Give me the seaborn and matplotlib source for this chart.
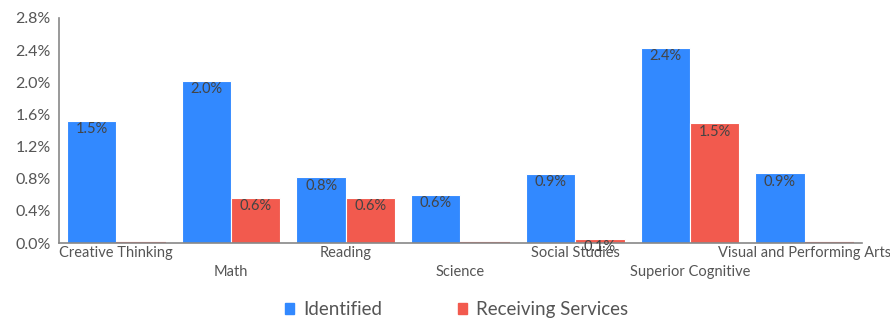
import matplotlib
matplotlib.use("Agg")
import matplotlib.pyplot as plt
import seaborn as sns
import pandas as pd
from matplotlib.ticker import FuncFormatter, MultipleLocator

# Values (percent of students)
categories = ["Creative Thinking", "Math", "Reading", "Science",
              "Social Studies", "Superior Cognitive", "Visual and Performing Arts"]
identified = [1.52, 2.02, 0.82, 0.60, 0.86, 2.43, 0.87]
receiving = [0.0, 0.56, 0.56, 0.0, 0.05, 1.49, 0.0]
series_names = ["Identified", "Receiving Services"]
palette = ["#3289FF", "#F25A4E"]

df = pd.DataFrame({
    "Category": categories * 2,
    "Series": [series_names[0]] * len(categories) + [series_names[1]] * len(categories),
    "Value": identified + receiving,
})

sns.set_theme(style="white")
plt.rcParams["font.family"] = ["Lato", "DejaVu Sans"]

fig = plt.figure(figsize=(8.9, 3.19), dpi=100)
ax = fig.add_axes([0.0663, 0.238, 0.9022, 0.7056])

sns.barplot(data=df, x="Category", y="Value", hue="Series", order=categories,
            hue_order=series_names, palette=palette, width=0.86, saturation=1,
            edgecolor="white", linewidth=0.8, legend=False, ax=ax)

# zero bars still show as a thin line on the baseline
for patch in ax.patches:
    if patch.get_height() == 0:
        patch.set_edgecolor(patch.get_facecolor())
        patch.set_linewidth(1.5)

# value labels just inside the top of each bar
for patch in ax.patches:
    h = patch.get_height()
    if h > 0:
        ax.annotate(f"{h:.1f}%", (patch.get_x() + patch.get_width() / 2, h),
                    xytext=(0, -1), textcoords="offset points",
                    ha="center", va="top", fontsize=10.5, color="#444444")

ax.set_ylim(0, 2.8)
ax.yaxis.set_major_locator(MultipleLocator(0.4))
ax.yaxis.set_major_formatter(FuncFormatter(lambda v, p: f"{v:.1f}%"))
ax.set_xlim(-0.5, len(categories) - 0.5)

# staggered category labels
ax.set_xticks(range(len(categories)))
ax.set_xticklabels([c if i % 2 == 0 else "\n" + c for i, c in enumerate(categories)],
                   linespacing=1.45)
ax.tick_params(axis="x", length=0, pad=2, labelsize=10.5, labelcolor="#555555")
ax.tick_params(axis="y", length=0, pad=6, labelsize=11.5, labelcolor="#555555")
ax.set_xlabel("")
ax.set_ylabel("")

for side in ["top", "right"]:
    ax.spines[side].set_visible(False)
for side in ["left", "bottom"]:
    ax.spines[side].set_color("#888888")
    ax.spines[side].set_linewidth(1.2)

handles = [plt.Rectangle((0, 0), 1, 1, color=c) for c in palette]
fig.legend(handles, series_names, loc="lower center", bbox_to_anchor=(0.513, -0.05),
           ncol=2, frameon=False, fontsize=13.5, handlelength=0.5, handleheight=0.5,
           columnspacing=4.0, handletextpad=0.5, labelcolor="#555555")

fig.savefig("out.png", dpi=100)
